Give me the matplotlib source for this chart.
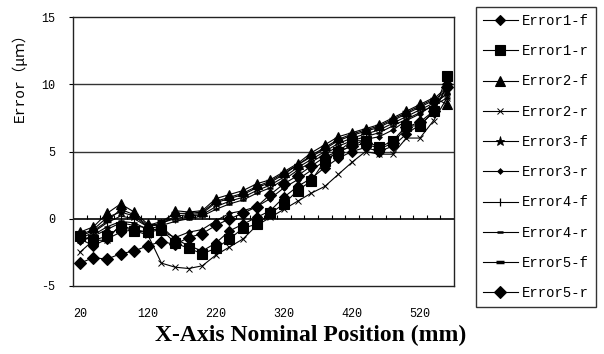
import numpy as np
import matplotlib.pyplot as plt

# nominal positions (mm)
x_pos = [20, 40, 60, 80, 100, 120, 140, 160, 180, 200, 220, 240, 260, 280,
         300, 320, 340, 360, 380, 400, 420, 440, 460, 480, 500, 520, 540, 560]

err1_f = [-1.5, -2.0, -1.5, -1.0, -0.8, -1.0, -0.6, -1.5, -2.0, -2.4, -1.8, -0.9, -0.4, 0.1,
          0.6, 1.6, 2.4, 3.0, 3.8, 4.5, 5.0, 5.3, 5.0, 5.4, 6.3, 7.0, 7.9, 10.0]
err1_r = [-1.3, -1.6, -1.3, -0.6, -0.9, -1.0, -0.8, -1.8, -2.2, -2.6, -2.2, -1.5, -0.7, -0.4,
          0.4, 1.1, 2.1, 2.8, 4.3, 5.0, 5.8, 5.8, 5.3, 5.8, 6.9, 6.9, 8.0, 10.6]
err2_f = [-1.0, -0.6, 0.4, 1.1, 0.5, -0.4, -0.5, 0.6, 0.5, 0.6, 1.5, 1.8, 2.1, 2.6,
          2.9, 3.5, 4.1, 4.9, 5.5, 6.1, 6.4, 6.7, 7.0, 7.5, 8.0, 8.5, 9.0, 8.5]
err2_r = [-2.5, -1.6, -1.6, -0.4, -0.9, -1.2, -3.3, -3.6, -3.7, -3.5, -2.7, -2.1, -1.5, -0.5,
          0.1, 0.7, 1.3, 1.9, 2.4, 3.3, 4.2, 5.0, 4.8, 4.8, 6.0, 6.0, 7.3, 9.0]
err3_f = [-1.2, -0.8, 0.1, 0.5, 0.2, -0.6, -0.4, 0.2, 0.3, 0.4, 1.2, 1.5, 1.8, 2.3,
          2.7, 3.3, 4.0, 4.6, 5.2, 5.8, 6.2, 6.5, 6.8, 7.3, 7.8, 8.3, 8.8, 9.6]
err3_r = [-1.7, -1.3, -0.8, -0.3, -0.5, -0.7, -0.9, -1.4, -1.0, -0.8, -0.15, 0.4, 0.6, 0.9,
          1.5, 2.3, 2.9, 3.6, 4.3, 5.0, 5.4, 5.9, 6.1, 6.6, 7.3, 7.8, 8.5, 9.3]
err4_f = [-1.5, -1.0, -0.3, 0.2, 0.0, -0.6, -0.3, 0.0, 0.2, 0.3, 0.9, 1.3, 1.6, 2.1,
          2.5, 3.1, 3.8, 4.4, 5.0, 5.6, 6.0, 6.3, 6.6, 7.1, 7.6, 8.1, 8.6, 9.3]
err4_r = [-1.7, -1.2, -0.6, -0.2, -0.3, -0.8, -0.5, -0.2, 0.0, 0.2, 0.7, 1.1, 1.4, 1.9,
          2.3, 2.9, 3.6, 4.2, 4.8, 5.4, 5.8, 6.1, 6.4, 6.9, 7.4, 7.9, 8.4, 9.0]
err5_f = [-1.3, -0.9, -0.2, 0.7, 0.3, -0.5, -0.2, 0.4, 0.4, 0.5, 1.3, 1.6, 1.9, 2.4,
          2.8, 3.4, 4.0, 4.7, 5.3, 5.9, 6.3, 6.6, 6.9, 7.4, 7.9, 8.4, 8.9, 9.8]
err5_r = [-3.3, -2.9, -3.0, -2.6, -2.4, -2.0, -1.7, -1.9, -1.4, -1.1, -0.5, 0.0, 0.4, 0.9,
          1.8, 2.6, 3.2, 3.9, 4.6, 5.0, 5.4, 5.6, 5.2, 5.6, 6.8, 7.2, 8.0, 9.8]

labels = ['Error1-f', 'Error1-r', 'Error2-f', 'Error2-r', 'Error3-f',
          'Error3-r', 'Error4-f', 'Error4-r', 'Error5-f', 'Error5-r']
series = [err1_f, err1_r, err2_f, err2_r, err3_f, err3_r, err4_f, err4_r, err5_f, err5_r]
# marker, size, edge width
styles = [('D', 5.5, 0.8), ('s', 7, 0.8), ('^', 7.5, 0.8), ('x', 5, 0.7), ('*', 6.5, 0.6),
          ('D', 3, 0.5), ('|', 6, 0.9), ('_', 4, 1.8), ('_', 6, 2.5), ('D', 6.5, 0.8)]

mono = ['Liberation Mono', 'Noto Sans CJK SC']

fig = plt.figure(figsize=(6.04, 3.54), dpi=100)
ax = fig.add_axes([73/604, 1-286/354, 381/604, 269/354])

idx = np.arange(len(x_pos))
for ys, lab, (m, ms, mew) in zip(series, labels, styles):
    ax.plot(idx, ys, color='black', lw=0.8, marker=m, markersize=ms,
            markeredgewidth=mew, markerfacecolor='black', markeredgecolor='black', label=lab)

ax.set_xlim(-0.5, len(x_pos) - 0.5)
ax.set_ylim(-5, 15)
ax.set_yticks([-5, 0, 5, 10, 15])
ax.set_yticklabels(['-5', '0', '5', '10', '15'], family=mono, fontsize=8.5)
for yv in [5, 10]:
    ax.axhline(yv, color='#333333', lw=1.0, zorder=0)
ax.axhline(0, color='black', lw=1.2, zorder=0)

# category tick marks on the zero axis
ax.vlines(idx[:-1] + 0.5, 0, 0.3, color='black', lw=0.8)

ax.set_xticks(idx[::5])
ax.set_xticklabels([str(v) for v in x_pos[::5]], family=mono, fontsize=8.5)
ax.tick_params(axis='x', length=0, pad=16)
ax.tick_params(axis='y', length=3, pad=10, direction='out')
for s in ax.spines.values():
    s.set_color('#222222')
    s.set_linewidth(1.0)

ax.set_ylabel('Error（μｍ）', family=mono, fontsize=10.5)
ax.yaxis.set_label_coords(-0.12, 0.79)

fig.text(311/604, 1-335/354, 'X-Axis Nominal Position (mm)', ha='center', va='center',
         family='Liberation Serif', fontweight='bold', fontsize=17)

leg = fig.legend(loc='upper left', bbox_to_anchor=(476/604, 1-7/354),
                 prop={'family': 'Liberation Mono', 'size': 10}, frameon=True,
                 fancybox=False, edgecolor='black', labelspacing=1.17,
                 handlelength=2.5, handletextpad=0.3, borderpad=0.5, borderaxespad=0)
leg.get_frame().set_linewidth(1.0)

fig.savefig('out.png', dpi=100)
